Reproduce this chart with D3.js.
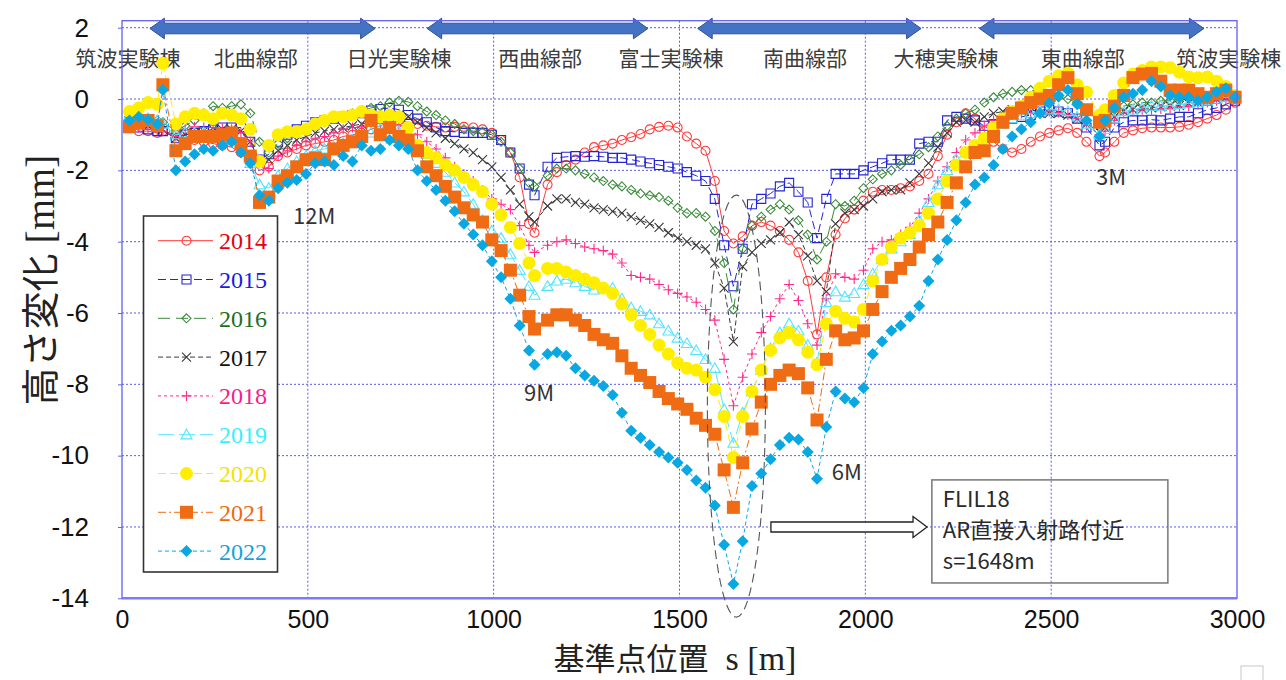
<!DOCTYPE html>
<html>
<head>
<meta charset="utf-8">
<script src="https://d3js.org/d3.v7.min.js"></script>
<style>
  body { margin: 0; background: #fff; }
  svg { display: block; }
</style>
</head>
<body>
<svg id="vis"></svg>
<script>
  // Data Setup
  var years = ['2014', '2015', '2016', '2017', '2018', '2019', '2020', '2021', '2022'];

  // reference point positions s [m]
  var sPos = [20, 45, 70, 95, 110, 145, 170, 195, 220, 245,
    270, 295, 320, 345, 370, 395, 420, 445, 470, 495,
    520, 545, 570, 595, 620, 645, 670, 695, 720, 745,
    770, 795, 820, 845, 870, 895, 920, 945, 970, 995,
    1020, 1045, 1070, 1095, 1110, 1145, 1170, 1195, 1220, 1245,
    1270, 1295, 1320, 1345, 1370, 1395, 1420, 1445, 1470, 1495,
    1520, 1545, 1570, 1595, 1620, 1645, 1670, 1695, 1720, 1745,
    1770, 1795, 1820, 1845, 1870, 1895, 1920, 1945, 1970, 1995,
    2020, 2045, 2070, 2095, 2120, 2145, 2170, 2195, 2220, 2245,
    2270, 2295, 2320, 2345, 2370, 2395, 2420, 2445, 2470, 2495,
    2520, 2545, 2570, 2595, 2630, 2645, 2670, 2695, 2720, 2745,
    2770, 2795, 2820, 2845, 2870, 2895, 2920, 2945, 2970, 2995];

  // height change [mm] per year
  var h2014 = [-0.7, -0.9, -0.9, -0.95, -0.9, -1.0, -1.1, -1.15, -1.2, -1.25,
    -1.3, -1.35, -1.5, -1.7, -2.0, -1.9, -1.6, -1.5, -1.4, -1.3,
    -1.25, -1.2, -1.15, -1.05, -1.0, -0.95, -0.85, -0.75, -0.65, -0.6,
    -0.65, -0.7, -0.75, -0.78, -0.8, -0.78, -0.78, -0.8, -0.85, -0.95,
    -1.15, -1.5, -2.2, -3.5, -3.75, -2.4, -2.05, -1.85, -1.7, -1.5,
    -1.35, -1.3, -1.25, -1.15, -1.07, -0.98, -0.85, -0.78, -0.75, -0.8,
    -1.05, -1.25, -1.45, -2.3, -3.7, -4.05, -3.85, -3.55, -3.45, -3.55,
    -3.7, -3.95, -4.3, -5.1, -6.6, -5.0, -3.8, -3.35, -3.1, -2.85,
    -2.6, -2.55, -2.55, -2.5, -2.45, -2.3, -2.1, -1.6, -1.0, -0.65,
    -0.4, -0.55, -0.9, -1.2, -1.4, -1.5, -1.4, -1.2, -1.05, -0.95,
    -0.88, -0.82, -0.95, -1.2, -1.6, -1.5, -1.2, -0.95, -0.88, -0.82,
    -0.8, -0.8, -0.8, -0.78, -0.72, -0.65, -0.55, -0.45, -0.3, -0.1];

  var h2015 = [-0.7, -0.8, -0.85, -0.9, -0.9, -1.1, -1.0, -0.95, -0.9, -0.85,
    -0.8, -0.8, -0.8, -1.2, -1.7, -1.55, -1.2, -1.0, -0.85, -0.75,
    -0.65, -0.6, -0.55, -0.5, -0.45, -0.4, -0.32, -0.28, -0.25, -0.3,
    -0.45, -0.55, -0.65, -0.8, -0.9, -0.92, -0.95, -0.95, -0.95, -1.0,
    -1.15, -1.5, -1.95, -2.4, -2.7, -1.9, -1.65, -1.62, -1.6, -1.62,
    -1.6, -1.62, -1.65, -1.65, -1.7, -1.75, -1.8, -1.85, -1.9, -1.95,
    -2.05, -2.15, -2.3, -2.8, -4.1, -5.25, -4.2, -2.95, -2.8, -2.65,
    -2.45, -2.35, -2.6, -2.9, -3.9, -2.8, -2.1, -2.1, -2.1, -2.0,
    -1.9, -1.8, -1.7, -1.7, -1.7, -1.25, -1.2, -1.2, -0.6, -0.5,
    -0.55, -0.6, -0.75, -0.7, -0.6, -0.55, -0.5, -0.45, -0.35, -0.3,
    -0.35, -0.4, -0.55, -0.8, -1.3, -1.2, -0.8, -0.65, -0.6, -0.6,
    -0.58, -0.6, -0.55, -0.5, -0.5, -0.4, -0.3, -0.25, -0.15, -0.05];

  var h2016 = [-0.5, -0.55, -0.6, -0.6, -0.65, -0.9, -0.75, -0.6, -0.4, -0.2,
    -0.25, -0.2, -0.15, -0.4, -1.2, -1.5, -1.25, -1.1, -0.95, -0.85,
    -0.75, -0.65, -0.55, -0.5, -0.4, -0.35, -0.25, -0.2, -0.1, -0.05,
    -0.08, -0.2, -0.35, -0.45, -0.6, -0.7, -0.85, -0.9, -0.92, -1.0,
    -1.2, -1.5, -1.95, -2.35, -2.45, -2.15, -1.95, -1.95, -2.0, -2.1,
    -2.2, -2.3, -2.4, -2.45, -2.55, -2.65, -2.7, -2.75, -2.85, -3.05,
    -3.2, -3.2, -3.3, -3.7, -4.6, -5.9, -4.2, -3.55, -3.3, -3.1,
    -2.95, -3.1, -3.4, -3.8, -4.5, -4.0, -2.95, -3.0, -2.85, -2.5,
    -2.25, -2.1, -2.0, -1.85, -1.7, -1.55, -1.35, -1.05, -0.75, -0.55,
    -0.4, -0.3, -0.1, 0.05, 0.15, 0.2, 0.25, 0.25, 0.2, 0.1,
    0.05, 0.0, -0.1, -0.3, -0.7, -0.6, -0.3, -0.2, -0.15, -0.1,
    -0.1, -0.05, -0.05, 0.0, 0.0, 0.05, 0.05, 0.1, 0.1, 0.05];

  var h2017 = [-0.6, -0.7, -0.75, -0.8, -0.85, -1.1, -1.0, -0.95, -0.9, -0.85,
    -0.85, -0.85, -0.9, -1.2, -1.75, -1.7, -1.45, -1.3, -1.15, -1.05,
    -0.95, -0.9, -0.85, -0.8, -0.75, -0.7, -0.65, -0.6, -0.55, -0.45,
    -0.5, -0.65, -0.8, -0.95, -1.1, -1.25, -1.4, -1.5, -1.7, -1.9,
    -2.2, -2.55, -2.95, -3.3, -3.45, -3.0, -2.8, -2.8, -2.9, -2.95,
    -3.05, -3.1, -3.15, -3.2, -3.3, -3.4, -3.5, -3.6, -3.75, -3.9,
    -4.0, -4.1, -4.2, -4.6, -5.3, -6.8, -4.7, -4.3, -4.05, -3.95,
    -3.75, -3.45, -3.8, -4.4, -5.1, -5.4, -3.5, -3.2, -3.1, -3.0,
    -2.8, -2.6, -2.55, -2.55, -2.35, -2.1, -1.8, -1.35, -0.95, -0.65,
    -0.6, -0.65, -0.5, -0.4, -0.35, -0.3, -0.35, -0.35, -0.4, -0.4,
    -0.4, -0.45, -0.55, -0.7, -0.9, -0.8, -0.5, -0.35, -0.3, -0.28,
    -0.25, -0.22, -0.2, -0.18, -0.12, -0.1, -0.05, 0.0, 0.05, 0.05];

  var h2018 = [-0.7, -0.8, -0.85, -0.87, -0.9, -1.05, -0.85, -0.78, -0.8, -0.8,
    -0.82, -0.85, -0.95, -1.2, -1.8, -1.95, -1.6, -1.45, -1.3, -1.2,
    -1.1, -1.05, -0.95, -0.85, -0.8, -0.78, -0.72, -0.68, -0.7, -0.75,
    -0.85, -1.0, -1.2, -1.4, -1.65, -1.9, -2.1, -2.3, -2.55, -2.8,
    -2.95, -3.1, -3.55, -4.1, -4.3, -4.1, -4.0, -3.95, -4.05, -4.15,
    -4.2, -4.25, -4.35, -4.6, -4.95, -5.0, -5.05, -5.2, -5.35, -5.45,
    -5.55, -5.7, -5.9, -6.2, -7.3, -8.6, -7.8, -7.15, -6.55, -6.1,
    -5.6, -5.2, -5.65, -6.3, -6.9, -5.6, -4.9, -5.0, -5.05, -4.8,
    -4.2, -4.0, -3.95, -3.8, -3.6, -3.2, -2.8, -2.3, -1.9, -1.5,
    -1.15, -0.95, -0.75, -0.6, -0.5, -0.45, -0.4, -0.4, -0.38, -0.35,
    -0.38, -0.45, -0.55, -0.75, -1.0, -0.9, -0.6, -0.4, -0.35, -0.3,
    -0.3, -0.28, -0.25, -0.22, -0.2, -0.15, -0.1, -0.05, 0.0, 0.0];

  var h2019 = [-0.45, -0.5, -0.55, -0.6, -0.7, -1.0, -0.95, -0.95, -0.95, -1.0,
    -1.05, -1.15, -1.25, -1.8, -2.4, -2.5, -2.15, -1.95, -1.75, -1.6,
    -1.45, -1.4, -1.35, -1.25, -1.15, -1.05, -0.95, -0.85, -0.8, -0.9,
    -1.1, -1.3, -1.55, -1.8, -2.05, -2.35, -2.6, -2.95, -3.4, -3.7,
    -3.9, -4.35, -4.8, -5.25, -5.5, -5.25, -5.1, -5.05, -5.15, -5.25,
    -5.35, -5.3, -5.3, -5.6, -5.85, -5.95, -6.05, -6.3, -6.5, -6.7,
    -6.85, -7.05, -7.3, -7.55, -8.7, -9.65, -8.8, -8.2, -7.6, -7.0,
    -6.55, -6.3, -6.5, -6.9, -7.4, -5.7, -5.4, -5.55, -5.45, -5.2,
    -4.9, -4.5, -4.2, -4.0, -3.8, -3.4, -2.9, -2.4, -2.0, -1.7,
    -1.5, -1.35, -1.1, -0.9, -0.7, -0.55, -0.45, -0.4, -0.35, -0.3,
    -0.3, -0.35, -0.5, -0.7, -1.0, -0.85, -0.55, -0.35, -0.3, -0.25,
    -0.2, -0.2, -0.18, -0.15, -0.12, -0.1, -0.05, 0.0, 0.05, 0.05];

  var h2020 = [-0.35, -0.25, -0.1, -0.15, 1.0, -0.7, -0.5, -0.4, -0.45, -0.55,
    -0.4, -0.45, -0.55, -0.85, -1.75, -1.3, -1.0, -0.92, -0.92, -0.85,
    -0.7, -0.6, -0.5, -0.5, -0.45, -0.35, -0.45, -0.5, -0.45, -0.5,
    -0.8, -1.3, -1.5, -1.65, -1.85, -2.0, -2.2, -2.4, -2.6, -2.95,
    -3.25, -3.6, -4.05, -4.6, -4.95, -4.75, -4.75, -4.85, -4.95, -5.05,
    -5.15, -5.3, -5.45, -5.75, -6.05, -6.35, -6.6, -6.9, -7.15, -7.4,
    -7.55, -7.6, -7.8, -8.15, -8.9, -10.05, -8.9, -8.2, -7.6, -7.05,
    -6.7, -6.55, -6.75, -7.1, -7.45, -6.3, -5.95, -6.15, -6.25, -5.9,
    -5.1, -4.5, -4.15, -3.9, -3.75, -3.55, -3.2, -2.8, -2.3, -1.85,
    -1.5, -1.3, -1.1, -0.8, -0.55, -0.35, -0.2, 0.05, 0.3, 0.5,
    0.65, 0.73, 0.4, 0.2, -0.45, -0.3, 0.1, 0.45, 0.7, 0.8,
    0.9, 0.9, 0.88, 0.75, 0.62, 0.6, 0.62, 0.5, 0.35, 0.1];

  var h2021 = [-0.78, -0.68, -0.6, -0.75, 0.4, -1.45, -1.25, -1.05, -1.05, -1.05,
    -1.0, -0.95, -1.25, -1.6, -2.9, -2.75, -2.3, -2.15, -1.9, -1.7,
    -1.65, -1.7, -1.4, -1.3, -1.2, -1.05, -0.6, -1.0, -0.8, -1.05,
    -1.15, -1.45, -1.9, -2.15, -2.45, -2.75, -3.05, -3.25, -3.45, -3.95,
    -4.25, -4.8, -5.5, -6.1, -6.45, -6.2, -6.05, -6.05, -6.2, -6.35,
    -6.6, -6.75, -6.85, -7.2, -7.55, -7.75, -7.95, -8.2, -8.4, -8.55,
    -8.7, -8.95, -9.15, -9.4, -10.4, -11.45, -10.2, -9.25, -8.5, -8.0,
    -7.75, -7.6, -7.7, -8.1, -9.0, -7.3, -6.5, -6.75, -6.7, -6.5,
    -5.9, -5.4, -5.0, -4.75, -4.5, -4.15, -3.8, -3.45, -2.9, -2.35,
    -1.9, -1.5, -1.45, -1.05, -0.65, -0.4, -0.25, -0.1, 0.0, 0.1,
    0.4, 0.6, 0.15, -0.3, -0.65, -0.6, -0.2, 0.1, 0.6, 0.7,
    0.72, 0.5, 0.25, 0.25, 0.25, 0.15, 0.05, 0.15, 0.25, 0.05];

  var h2022 = [-0.6, -0.5, -0.58, -0.7, 0.25, -2.0, -1.75, -1.55, -1.4, -1.45,
    -1.3, -1.2, -1.5, -1.8, -2.7, -2.85, -2.5, -2.35, -2.27, -2.1,
    -1.8, -1.75, -1.85, -1.6, -1.75, -1.3, -1.45, -1.4, -1.15, -1.3,
    -1.4, -2.0, -2.3, -2.55, -2.85, -3.15, -3.5, -3.8, -4.1, -4.55,
    -5.0, -5.6, -6.35, -7.05, -7.45, -7.15, -7.1, -7.2, -7.55, -7.75,
    -7.9, -8.05, -8.3, -8.8, -9.3, -9.5, -9.7, -9.9, -10.05, -10.2,
    -10.4, -10.7, -10.9, -11.4, -12.5, -13.6, -12.4, -10.85, -10.5, -10.1,
    -9.7, -9.5, -9.55, -9.9, -10.65, -9.2, -8.2, -8.4, -8.5, -8.1,
    -7.15, -6.8, -6.5, -6.35, -6.1, -5.8, -5.1, -4.5, -3.95, -3.4,
    -2.9, -2.4, -2.2, -1.85, -1.4, -1.05, -0.85, -0.65, -0.4, -0.12,
    0.1, 0.25, -0.15, -0.6, -1.05, -0.6, -0.25, 0.05, 0.15, 0.25,
    0.5, 0.35, 0.1, 0.05, 0.05, -0.05, 0.05, 0.2, 0.3, 0.05];

  var seriesValues = [h2014, h2015, h2016, h2017, h2018, h2019, h2020, h2021, h2022];

  var xTicks = [0, 500, 1000, 1500, 2000, 2500, 3000];
  var yTicks = [2, 0, -2, -4, -6, -8, -10, -12, -14];

  // ring sections along the top
  var sectionNames = ['筑波実験棟', '北曲線部', '日光実験棟', '西曲線部', '富士実験棟', '南曲線部', '大穂実験棟', '東曲線部', '筑波実験棟'];
  var sectionS = [16, 360, 745, 1125, 1477, 1838, 2217, 2585, 2978];
  var arcSpans = [[75, 681], [821, 1415], [1549, 2150], [2307, 2911]];

  // labels near the dips
  var dipNames = ['12M', '9M', '6M', '3M'];
  var dipS = [517, 1122, 1950, 2661];
  var dipV = [-3.28, -8.24, -10.46, -2.19];

  var noteLines = ['FLIL18', 'AR直接入射路付近', 's=1648m'];

  // Styles
  var markerColors = ['#ff3b3b', '#2424d4', '#3a8a3a', '#3a3a3a', '#ff2a8c', '#55e4ff', '#ffee00', '#f06c14', '#0aa8e2'];
  var textColors = ['#e60012', '#1a1ae6', '#1e6e1e', '#111111', '#ff1a84', '#3ceeff', '#f2e300', '#ee6a10', '#14a4dc'];
  var shapes = ['circle', 'square', 'diamond', 'x', 'plus', 'triangle', 'circle', 'square', 'diamond'];
  var sizes = [4.5, 4.5, 4.5, 4.5, 5, 5.5, 6.5, 6.5, 6];
  var filled = [false, false, false, false, false, false, true, true, true];
  var dashes = [null, '8,4', '12,6', '5,3', '3,3', '16,5', '8,4', '8,3,2,3', '4,3'];

  // SVG Setup
  var W = 1286, H = 680;
  var svg = d3.select('#vis')
    .attr('width', W)
    .attr('height', H)
    .style('font-family', 'Liberation Sans, Arial, sans-serif');

  var x = d3.scaleLinear().domain([0, 3000]).range([122, 1237]);
  var y = d3.scaleLinear().domain([-14, 2]).range([598.3, 27.7]);

  var gridBlue = '#5a5ae8';

  // grid
  svg.append('g').selectAll('line')
    .data(yTicks.filter(function(d) { return d > -14 }))
    .enter().append('line')
    .attr('x1', x(0)).attr('x2', x(3000))
    .attr('y1', function(d) { return y(d) }).attr('y2', function(d) { return y(d) })
    .attr('stroke', gridBlue).attr('stroke-width', 1).attr('stroke-dasharray', '2,2');

  svg.append('g').selectAll('line')
    .data(xTicks.filter(function(d) { return d > 0 && d < 3000 }))
    .enter().append('line')
    .attr('x1', function(d) { return x(d) }).attr('x2', function(d) { return x(d) })
    .attr('y1', y(2) - 7).attr('y2', y(-14))
    .attr('stroke', gridBlue).attr('stroke-width', 1).attr('stroke-dasharray', '2,2');

  // section labels and arrows on top
  svg.append('g').selectAll('text')
    .data(sectionNames)
    .enter().append('text')
    .attr('x', function(d, i) { return x(sectionS[i]) })
    .attr('y', 66)
    .attr('text-anchor', 'middle')
    .style('font-family', 'Noto Sans CJK JP')
    .style('font-size', '21px')
    .attr('fill', '#3c3c3c')
    .text(function(d) { return d });

  function dblArrow(x0, x1, yc, sh, hh, hl) {
    return 'M' + x0 + ',' + yc + 'L' + (x0 + hl) + ',' + (yc - hh) + 'V' + (yc - sh) + 'H' + (x1 - hl) +
      'V' + (yc - hh) + 'L' + x1 + ',' + yc + 'L' + (x1 - hl) + ',' + (yc + hh) + 'V' + (yc + sh) +
      'H' + (x0 + hl) + 'V' + (yc + hh) + 'Z';
  }

  svg.append('g').selectAll('path')
    .data(arcSpans)
    .enter().append('path')
    .attr('d', function(d) { return dblArrow(x(d[0]), x(d[1]), 28.5, 5.3, 10.3, 14.5) })
    .attr('fill', '#4472c4')
    .attr('stroke', '#2f528f')
    .attr('stroke-width', 1);

  // marker shapes
  function shapePath(kind, r) {
    if (kind === 'circle') return 'M' + (-r) + ',0a' + r + ',' + r + ' 0 1,0 ' + (2 * r) + ',0a' + r + ',' + r + ' 0 1,0 ' + (-2 * r) + ',0Z';
    if (kind === 'square') return 'M' + (-r) + ',' + (-r) + 'h' + (2 * r) + 'v' + (2 * r) + 'h' + (-2 * r) + 'Z';
    if (kind === 'diamond') return 'M0,' + (-r) + 'L' + r + ',0L0,' + r + 'L' + (-r) + ',0Z';
    if (kind === 'x') return 'M' + (-r) + ',' + (-r) + 'L' + r + ',' + r + 'M' + (-r) + ',' + r + 'L' + r + ',' + (-r);
    if (kind === 'plus') return 'M' + (-r) + ',0H' + r + 'M0,' + (-r) + 'V' + r;
    if (kind === 'triangle') return 'M0,' + (-r) + 'L' + r + ',' + (r * 0.75) + 'L' + (-r) + ',' + (r * 0.75) + 'Z';
  }

  function styleMarker(sel, i) {
    sel.attr('d', shapePath(shapes[i], sizes[i]))
      .attr('fill', filled[i] ? markerColors[i] : 'none')
      .attr('stroke', markerColors[i])
      .attr('stroke-width', filled[i] ? 0 : 1.1);
  }

  var line = d3.line()
    .x(function(d) { return x(d.s) })
    .y(function(d) { return y(d.v) });

  // series
  seriesValues.forEach(function(vals, i) {
    var pts = sPos.map(function(s, j) { return { s: s, v: vals[j] } });
    var g = svg.append('g').attr('class', 'series-' + years[i]);

    g.append('path')
      .attr('d', line(pts))
      .attr('fill', 'none')
      .attr('stroke', markerColors[i])
      .attr('stroke-width', 1)
      .attr('stroke-dasharray', dashes[i]);

    g.selectAll('path.m')
      .data(pts)
      .enter().append('path')
      .attr('class', 'm')
      .attr('transform', function(d) { return 'translate(' + x(d.s) + ',' + y(d.v) + ')' })
      .call(styleMarker, i);
  });

  // frame and axes
  svg.append('rect')
    .attr('x', x(0)).attr('y', y(2) - 7)
    .attr('width', x(3000) - x(0)).attr('height', y(-14) - y(2) + 7)
    .attr('fill', 'none')
    .attr('stroke', '#6262ee')
    .attr('stroke-width', 1.3);

  svg.append('line')
    .attr('x1', x(0)).attr('x2', x(3000))
    .attr('y1', y(-14)).attr('y2', y(-14))
    .attr('stroke', '#7a7af2').attr('stroke-width', 2.5);

  // plain hyphen minus, as in the original
  var plainNum = function(d) { return String(d) };

  var yAxis = svg.append('g')
    .attr('transform', 'translate(' + x(0) + ',0)')
    .call(d3.axisLeft(y).tickValues(yTicks).tickSize(4).tickPadding(29).tickFormat(plainNum));
  yAxis.select('.domain').remove();
  yAxis.selectAll('.tick line').attr('stroke', '#6262ee');
  yAxis.selectAll('text')
    .style('font-family', 'Liberation Sans, Arial, sans-serif')
    .style('font-size', '26px')
    .attr('fill', '#111');

  var xAxis = svg.append('g')
    .attr('transform', 'translate(0,' + y(-14) + ')')
    .call(d3.axisBottom(x).tickValues(xTicks).tickSize(0).tickPadding(12).tickFormat(plainNum));
  xAxis.select('.domain').remove();
  xAxis.selectAll('text')
    .style('font-family', 'Liberation Sans, Arial, sans-serif')
    .style('font-size', '25px')
    .attr('fill', '#111');

  // axis titles
  var xTitle = svg.append('text')
    .attr('x', 675).attr('y', 670)
    .attr('text-anchor', 'middle')
    .attr('fill', '#222')
    .attr('xml:space', 'preserve');
  xTitle.append('tspan')
    .style('font-family', 'Noto Sans CJK JP')
    .style('font-size', '31px')
    .text('基準点位置');
  xTitle.append('tspan')
    .style('font-family', 'Liberation Serif, Times New Roman, serif')
    .style('font-size', '34px')
    .text('  s [m]');

  var yTitle = svg.append('text')
    .attr('transform', 'translate(54,280) rotate(-90)')
    .attr('text-anchor', 'middle')
    .attr('fill', '#222')
    .attr('xml:space', 'preserve');
  yTitle.append('tspan')
    .style('font-family', 'Noto Sans CJK JP')
    .style('font-size', '38px')
    .text('高さ変化');
  yTitle.append('tspan')
    .style('font-family', 'Liberation Serif, Times New Roman, serif')
    .style('font-size', '40px')
    .text(' [mm]');

  // legend
  var legend = svg.append('g');
  legend.append('rect')
    .attr('x', 143.5).attr('y', 216)
    .attr('width', 134).attr('height', 356)
    .attr('fill', '#fff')
    .attr('stroke', '#333')
    .attr('stroke-width', 1.6);

  var rows = legend.selectAll('g.row')
    .data(years)
    .enter().append('g')
    .attr('class', 'row')
    .attr('transform', function(d, i) { return 'translate(0,' + (240.7 + i * 38.8) + ')' });

  rows.append('line')
    .attr('x1', 158).attr('x2', 213)
    .attr('y1', 0).attr('y2', 0)
    .attr('stroke', function(d, i) { return markerColors[i] })
    .attr('stroke-width', 1)
    .attr('stroke-dasharray', function(d, i) { return dashes[i] });

  rows.append('path')
    .attr('transform', 'translate(186.5,0)')
    .each(function(d, i) { d3.select(this).call(styleMarker, i) });

  rows.append('text')
    .attr('x', 219).attr('y', 0)
    .attr('dy', '0.35em')
    .style('font-family', 'Liberation Serif, Times New Roman, serif')
    .style('font-size', '24px')
    .attr('fill', function(d, i) { return textColors[i] })
    .text(function(d) { return d });

  // dip labels
  svg.append('g').selectAll('text')
    .data(dipNames)
    .enter().append('text')
    .attr('x', function(d, i) { return x(dipS[i]) })
    .attr('y', function(d, i) { return y(dipV[i]) })
    .attr('dy', '0.36em')
    .attr('text-anchor', 'middle')
    .style('font-family', 'Noto Sans CJK JP')
    .style('font-size', '22px')
    .attr('fill', '#333')
    .text(function(d) { return d });

  // FLIL18 ellipse
  svg.append('ellipse')
    .attr('cx', x(1653)).attr('cy', y(-8.61))
    .attr('rx', 29).attr('ry', 211)
    .attr('fill', 'none')
    .attr('stroke', '#555')
    .attr('stroke-width', 1.1)
    .attr('stroke-dasharray', '9,5');

  // hollow arrow to the note
  var ax0 = x(1746), ax1 = x(2166), ay = y(-12);
  svg.append('path')
    .attr('d', 'M' + ax0 + ',' + (ay - 5) + 'H' + (ax1 - 14) + 'V' + (ay - 10.5) + 'L' + ax1 + ',' + ay +
      'L' + (ax1 - 14) + ',' + (ay + 10.5) + 'V' + (ay + 5) + 'H' + ax0 + 'Z')
    .attr('fill', '#fff')
    .attr('stroke', '#222')
    .attr('stroke-width', 1.3);

  // note box
  var bx0 = x(2179), bx1 = x(2814), by0 = y(-10.68), by1 = y(-13.57);
  svg.append('rect')
    .attr('x', bx0).attr('y', by0)
    .attr('width', bx1 - bx0).attr('height', by1 - by0)
    .attr('fill', 'none')
    .attr('stroke', '#777')
    .attr('stroke-width', 1.5);

  svg.append('g').selectAll('text')
    .data(noteLines)
    .enter().append('text')
    .attr('x', bx0 + 11)
    .attr('y', function(d, i) { return by0 + 27 + i * 31 })
    .style('font-family', 'Noto Sans CJK JP')
    .style('font-size', '22px')
    .attr('fill', '#2a2a2a')
    .text(function(d) { return d });

  // small paste icon in the corner
  svg.append('rect')
    .attr('x', 1241).attr('y', 666)
    .attr('width', 22).attr('height', 18)
    .attr('fill', '#fff')
    .attr('stroke', '#c8c8c8');
</script>
</body>
</html>
